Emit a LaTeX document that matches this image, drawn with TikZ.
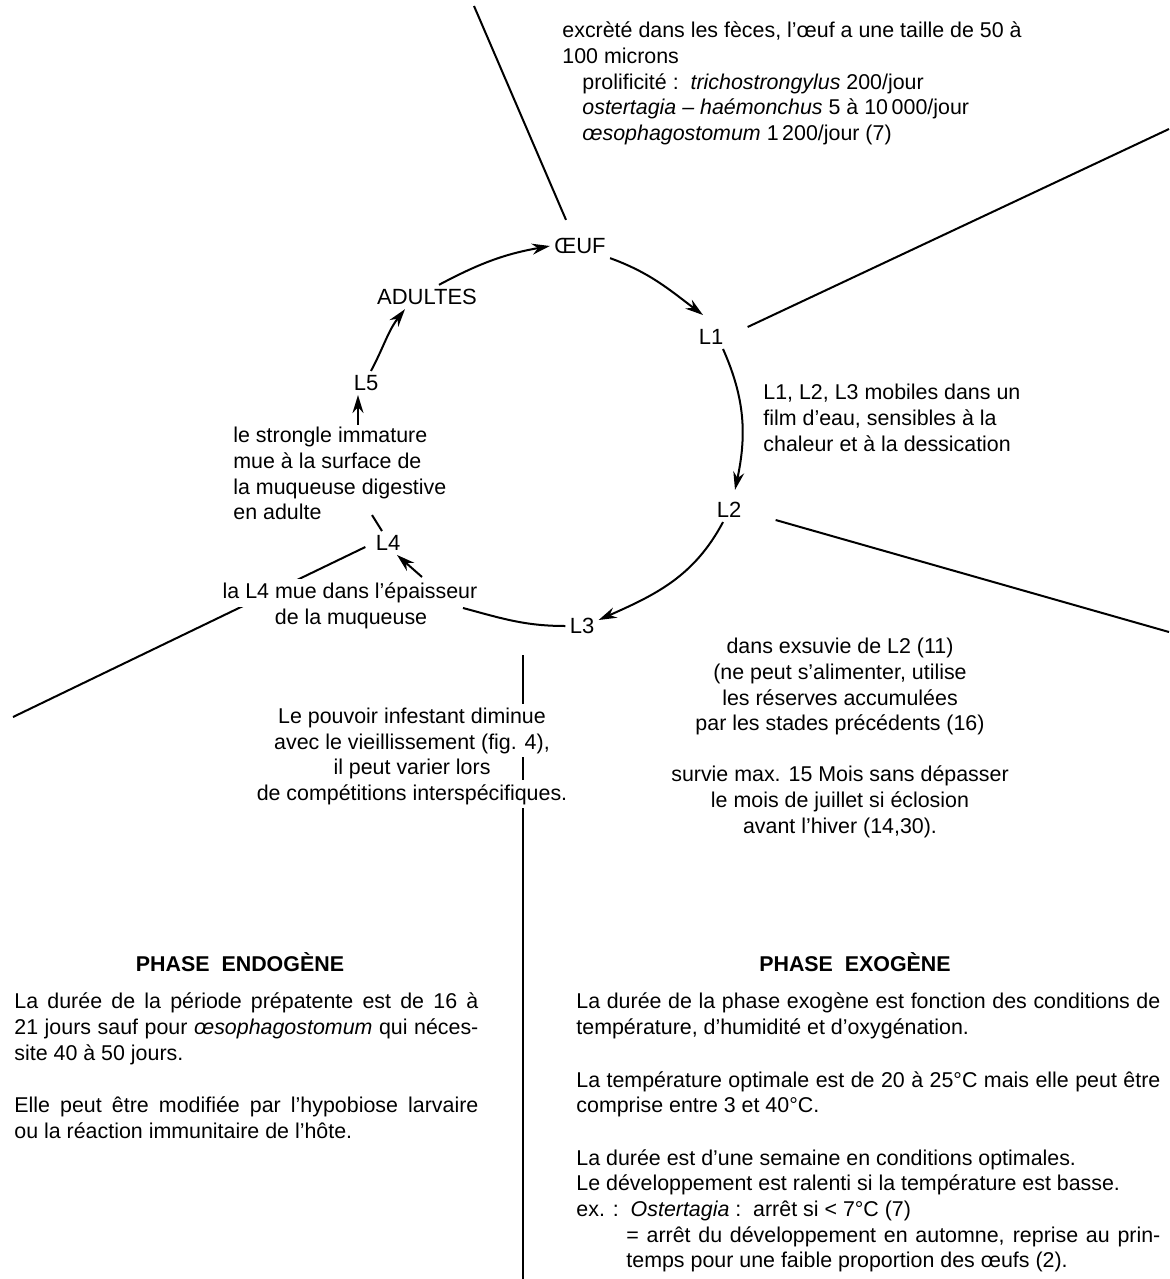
\documentclass[tikz,border=0pt]{standalone}
\usepackage{fontspec}
\setmainfont{Liberation Sans}
\usetikzlibrary{arrows.meta}
\setlength{\parindent}{0pt}
\setlength{\parskip}{0pt}
\newcommand\bodyfont{\fontsize{10.7}{12.8}\selectfont}
\newcommand\labfont{\fontsize{11}{13}\selectfont}
\begin{document}
\begin{tikzpicture}[x=0.5pt,y=0.5pt,
  lab/.style={font=\labfont, inner sep=2pt},
  txt/.style={font=\bodyfont, inner sep=0pt, align=left, anchor=north west},
  ctxt/.style={font=\bodyfont, inner sep=0pt, align=center, anchor=north},
  wtxt/.style={font=\bodyfont, inner sep=2pt, fill=white, anchor=base},
  para/.style={font=\bodyfont, inner sep=0pt, align=justify, anchor=north west},
  head/.style={font=\bodyfont\bfseries, inner sep=0pt, anchor=base},
  arr/.style={line width=1pt, -{Stealth[length=9pt,width=5.5pt]}},
  spoke/.style={line width=1pt}
]
\fill[white] (0,0) rectangle (1169,-1279);
\useasboundingbox (0,0) rectangle (1169,-1279);

% cycle stages
\node[lab] (oeuf) at (580,-246) {ŒUF};
\node[lab] (adultes) at (427,-297) {ADULTES};
\node[lab] (L1) at (711,-337) {L1};
\node[lab] (L2) at (729,-510) {L2};
\node[lab] (L3) at (582,-626) {L3};
\node[lab] (L4) at (388,-543) {L4};
\node[lab] (L5) at (366,-383) {L5};

% free ends of the spokes
\coordinate (s1) at (474,-6);
\coordinate (s2) at (1169,-129);
\coordinate (s3) at (1169,-632);
\coordinate (s5) at (13,-717);
\coordinate (vtop) at (523,-655);
\coordinate (vbot) at (523,-1279);
\coordinate (gapA) at (463,-608);
\coordinate (gapB) at (422,-577);

% spokes
\draw[spoke] ([shift={(-7pt,7pt)}]oeuf.north) -- (s1);
\draw[spoke] ([shift={(10pt,5pt)}]L1.east) -- (s2);
\draw[spoke] ([shift={(15pt,-5pt)}]L2.east) -- (s3);
\draw[spoke] ([shift={(-3pt,-2pt)}]L4.west) -- (s5);
\draw[spoke] (vtop) -- (vbot);

% cycle arrows
\draw[arr] ([xshift=6pt]adultes.north) to[out=28,in=190] (oeuf.west);
\draw[arr] (oeuf.south east) to[out=-20,in=143] ([shift={(-4pt,5pt)}]L1.north);
\draw[arr] ([xshift=6pt]L1.south) to[out=-66,in=78] ([shift={(3pt,4pt)}]L2.north);
\draw[arr] ([xshift=-3pt]L2.south) to[out=-118,in=24] ([yshift=3pt]L3.east);
\draw[spoke] (L3.west) to[out=180,in=-15] (gapA);
\draw[arr] (gapB) -- ([xshift=4.5pt]L4.south);
\draw[arr] ([xshift=2.5pt]L5.north) to[out=62,in=232] ([xshift=-11pt]adultes.south);

% annotations
\node[txt] (eggtxt) at (562,-19.6) {\strut excrèté dans les fèces, l’œuf a une taille de 50 à\\
100 microns\\
\hspace*{10pt}prolificité :\ \ \textit{trichostrongylus} 200/jour\\
\hspace*{10pt}\textit{ostertagia -- haémonchus} 5 à 10\,000/jour\\
\hspace*{10pt}\textit{œsophagostomum} 1\,200/jour (7)};

\node[txt] (mobtxt) at (763,-381.6) {\strut L1, L2, L3 mobiles dans un\\
film d’eau, sensibles à la\\
chaleur et à la dessication};

\node[txt] (strongle) at (233,-424.6) {\strut le strongle immature\\
mue à la surface de\\
la muqueuse digestive\\
en adulte};

\draw[arr] ([xshift=-4pt]L5.south |- strongle.north) -- ([xshift=-4pt]L5.south);
\draw[spoke] ([xshift=-3pt]L4.north) -- ++(-10,16);

\node[wtxt] (l4a) at (350,-598.5) {la L4 mue dans l’épaisseur};
\node[wtxt] (l4b) at (351,-624) {de la muqueuse};

\node[wtxt] (pv1) at (412,-723.5) {Le pouvoir infestant diminue};
\node[wtxt] (pv2) at (412,-749) {avec le vieillissement (fig. 4),};
\node[wtxt] (pv3) at (412,-774.5) {il peut varier lors};
\node[wtxt] (pv4) at (412,-800) {de compétitions interspécifiques.};

\node[ctxt] (exsuv) at (840,-635.6) {\strut dans exsuvie de L2 (11)\\
(ne peut s’alimenter, utilise\\
les réserves accumulées\\
par les stades précédents (16)\\[12.8pt]
survie max. 15 Mois sans dépasser\\
le mois de juillet si éclosion\\
avant l’hiver (14,30).};

% phases
\node[head] (endo) at (240,-971) {PHASE\ \ ENDOGÈNE};
\node[head] (exo) at (855,-971) {PHASE\ \ EXOGÈNE};

\node[para, text width=232pt] (endotxt) at (14,-990.6) {\strut La durée de la période prépatente est de 16 à\linebreak
21 jours sauf pour \textit{œsophagostomum} qui néces-\linebreak
site 40 à 50 jours.\par\vspace{13.5pt}
Elle peut être modifiée par l’hypobiose larvaire\linebreak
ou la réaction immunitaire de l’hôte.};

\node[para, text width=292pt] (exotxt) at (576,-990.6) {\strut La durée de la phase exogène est fonction des conditions de\linebreak
température, d’humidité et d’oxygénation.\par\vspace{13.5pt}
La température optimale est de 20 à 25°C mais elle peut être\linebreak
comprise entre 3 et 40°C.\par\vspace{13.5pt}
La durée est d’une semaine en conditions optimales.\\
Le développement est ralenti si la température est basse.\\
ex. :\ \ \textit{Ostertagia} :\ \ arrêt si < 7°C (7)\\
\hspace*{25pt}= arrêt du développement en automne, reprise au prin-\linebreak
\hspace*{25pt}temps pour une faible proportion des œufs (2).};
\end{tikzpicture}
\end{document}
